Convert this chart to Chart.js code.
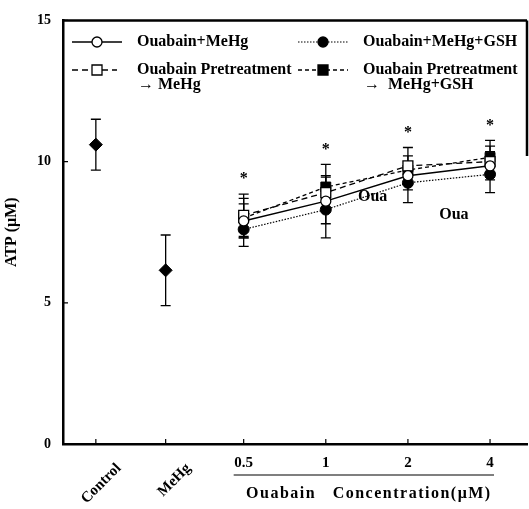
<!DOCTYPE html>
<html lang="en">
<head>
<meta charset="UTF-8">
<title>ATP vs Ouabain Concentration</title>
<script src="https://cdn.jsdelivr.net/npm/chart.js"></script>
<style>
  html, body { margin: 0; padding: 0; background: #fff; }
  #wrap { width: 529px; height: 509px; }
</style>
</head>
<body>
<div id="wrap"><canvas id="atpChart" width="529" height="509"></canvas></div>
<script>
// categories along the x axis
const categories = ['Control', 'MeHg', '0.5', '1', '2', '4'];
const yTicks = [0, 5, 10, 15];

// reference groups (Control, MeHg)
const refMeans = [10.6, 6.15];
const refErrors = [0.9, 1.25];

// ouabain series, one value per concentration 0.5, 1, 2, 4 uM
const ouaMeHg = [7.9, 8.6, 9.5, 9.85];
const ouaMeHgErr = [0.6, 1.3, 0.5, 0.5];
const preMeHg = [8.1, 8.9, 9.85, 10.0];
const preMeHgErr = [0.75, 0.55, 0.65, 0.55];
const ouaMeHgGSH = [7.6, 8.3, 9.25, 9.55];
const ouaMeHgGSHErr = [0.6, 0.5, 0.7, 0.65];
const preMeHgGSH = [8.0, 9.1, 9.7, 10.15];
const preMeHgGSHErr = [0.7, 0.4, 0.5, 0.6];

// stray "Oua" labels found on the figure
const strayLabels = [{ x: 3.77, y: 8.75, text: 'Oua' }, { x: 4.76, y: 8.1, text: 'Oua' }];

// x position of each category on the linear axis (spacing is uneven on the figure)
const xPos = [0.4, 1.25, 2.2, 3.2, 4.2, 5.2];
const SERIF = '"Liberation Serif", "Times New Roman", serif';

function pts(values, offset) {
    return values.map((v, i) => ({ x: xPos[i + offset], y: v }));
}

// error bars + asterisks
const errorBars = {
    id: 'errorBars',
    beforeDatasetsDraw(chart) {
        const ctx = chart.ctx, xs = chart.scales.x, ys = chart.scales.y;
        ctx.save();
        ctx.strokeStyle = '#000';
        ctx.lineWidth = 1.3;
        chart.data.datasets.forEach(ds => {
            if (!ds.errors) return;
            ds.data.forEach((p, i) => {
                const e = ds.errors[i];
                const px = xs.getPixelForValue(p.x);
                const top = ys.getPixelForValue(p.y + e);
                const bot = ys.getPixelForValue(p.y - e);
                ctx.beginPath();
                ctx.moveTo(px, top); ctx.lineTo(px, bot);
                ctx.moveTo(px - 5, top); ctx.lineTo(px + 5, top);
                ctx.moveTo(px - 5, bot); ctx.lineTo(px + 5, bot);
                ctx.stroke();
            });
        });
        ctx.restore();
    },
    afterDatasetsDraw(chart) {
        const ctx = chart.ctx, xs = chart.scales.x, ys = chart.scales.y;
        const series = chart.data.datasets.filter(ds => ds.ouabain);
        ctx.save();
        ctx.fillStyle = '#000';
        ctx.font = 'bold 16px ' + SERIF;
        ctx.textAlign = 'center';
        ctx.textBaseline = 'middle';
        ouaMeHg.forEach((_, i) => {
            let hi = -Infinity;
            series.forEach(ds => { hi = Math.max(hi, ds.data[i].y + ds.errors[i]); });
            ctx.fillText('*', xs.getPixelForValue(xPos[i + 2]), ys.getPixelForValue(hi) - 15);
        });
        ctx.font = 'bold 16px ' + SERIF;
        strayLabels.forEach(l => {
            ctx.fillText(l.text, xs.getPixelForValue(l.x), ys.getPixelForValue(l.y));
        });
        ctx.restore();
    }
};

// frame, inward ticks, x labels and the legend box
const decorations = {
    id: 'decorations',
    afterDraw(chart) {
        const ctx = chart.ctx, xs = chart.scales.x, ys = chart.scales.y;
        const a = chart.chartArea;
        ctx.save();
        ctx.strokeStyle = '#000';
        ctx.fillStyle = '#000';

        // top border and short right border
        ctx.lineWidth = 2.5;
        ctx.beginPath();
        ctx.moveTo(a.left, a.top); ctx.lineTo(a.right, a.top);
        ctx.moveTo(a.right, a.top); ctx.lineTo(a.right, ys.getPixelForValue(10.2));
        ctx.stroke();

        // inward tick marks
        ctx.lineWidth = 1.2;
        ctx.beginPath();
        yTicks.forEach(t => {
            const py = ys.getPixelForValue(t);
            ctx.moveTo(a.left, py); ctx.lineTo(a.left + 5, py);
        });
        xPos.forEach(x => {
            const px = xs.getPixelForValue(x);
            ctx.moveTo(px, a.bottom); ctx.lineTo(px, a.bottom - 5);
        });
        ctx.stroke();

        // x category labels
        categories.forEach((c, i) => {
            const px = xs.getPixelForValue(xPos[i]);
            if (i < 2) {
                ctx.save();
                ctx.font = 'bold 15px ' + SERIF;
                ctx.translate(px + 23, a.bottom + 22);
                ctx.rotate(-45 * Math.PI / 180);
                ctx.textAlign = 'right';
                ctx.textBaseline = 'middle';
                ctx.fillText(c, 0, 0);
                ctx.restore();
            } else {
                ctx.font = 'bold 15px ' + SERIF;
                ctx.textAlign = 'center';
                ctx.textBaseline = 'middle';
                ctx.fillText(c, px, a.bottom + 19);
            }
        });
        const x0 = xs.getPixelForValue(xPos[2]) - 10;
        const x1 = xs.getPixelForValue(xPos[5]) + 4;
        ctx.lineWidth = 1.2;
        ctx.beginPath();
        ctx.moveTo(x0, a.bottom + 31); ctx.lineTo(x1, a.bottom + 31);
        ctx.stroke();
        ctx.font = 'bold 16px ' + SERIF;
        ctx.letterSpacing = '1.5px';
        ctx.textAlign = 'center';
        ctx.fillText('Ouabain   Concentration(\u03bcM)', (x0 + x1) / 2 + 5, a.bottom + 50);
        ctx.letterSpacing = '0px';

        // legend
        const rows = [
            { ds: 0, x: 72, w: 50, y: 42, label: ['Ouabain+MeHg'] },
            { ds: 2, x: 298, w: 50, y: 42, label: ['Ouabain+MeHg+GSH'] },
            { ds: 1, x: 72, w: 45, y: 70, label: ['Ouabain Pretreatment', '\u2192 MeHg'] },
            { ds: 3, x: 298, w: 50, y: 70, label: ['Ouabain Pretreatment', '\u2192  MeHg+GSH'] }
        ];
        rows.forEach(r => {
            const ds = chart.data.datasets[r.ds];
            ctx.lineWidth = ds.borderWidth;
            ctx.setLineDash(ds.borderDash || []);
            ctx.beginPath();
            ctx.moveTo(r.x, r.y); ctx.lineTo(r.x + r.w, r.y);
            ctx.stroke();
            ctx.setLineDash([]);
            const cx = r.x + 25;
            ctx.lineWidth = 1.3;
            ctx.fillStyle = ds.pointBackgroundColor;
            ctx.beginPath();
            if (ds.pointStyle === 'rect') {
                ctx.rect(cx - 5, r.y - 5, 10, 10);
            } else {
                ctx.arc(cx, r.y, 5, 0, Math.PI * 2);
            }
            ctx.fill(); ctx.stroke();
            ctx.fillStyle = '#000';
            ctx.font = 'bold 16px ' + SERIF;
            ctx.textAlign = 'left';
            ctx.textBaseline = 'middle';
            r.label.forEach((t, k) => ctx.fillText(t, r.x + 65 + (k ? 1 : 0), r.y + k * 15));
        });
        ctx.restore();
    }
};

const ctx = document.getElementById('atpChart').getContext('2d');
new Chart(ctx, {
    type: 'line',
    data: {
        datasets: [
            {
                label: 'Ouabain+MeHg', ouabain: true,
                data: pts(ouaMeHg, 2), errors: ouaMeHgErr,
                borderColor: '#000', borderWidth: 1.5,
                pointStyle: 'circle', pointRadius: 5,
                pointBackgroundColor: '#fff', pointBorderColor: '#000', pointBorderWidth: 1.3
            },
            {
                label: 'Ouabain Pretreatment \u2192 MeHg', ouabain: true,
                data: pts(preMeHg, 2), errors: preMeHgErr,
                borderColor: '#000', borderWidth: 1.3, borderDash: [6, 4],
                pointStyle: 'rect', pointRadius: 7,
                pointBackgroundColor: '#fff', pointBorderColor: '#000', pointBorderWidth: 1.3
            },
            {
                label: 'Ouabain+MeHg+GSH', ouabain: true,
                data: pts(ouaMeHgGSH, 2), errors: ouaMeHgGSHErr,
                borderColor: '#000', borderWidth: 1.2, borderDash: [1.5, 1.5],
                pointStyle: 'circle', pointRadius: 5.5,
                pointBackgroundColor: '#000', pointBorderColor: '#000', pointBorderWidth: 1
            },
            {
                label: 'Ouabain Pretreatment \u2192 MeHg+GSH', ouabain: true,
                data: pts(preMeHgGSH, 2), errors: preMeHgGSHErr,
                borderColor: '#000', borderWidth: 1.3, borderDash: [4, 3],
                pointStyle: 'rect', pointRadius: 7,
                pointBackgroundColor: '#000', pointBorderColor: '#000', pointBorderWidth: 1
            },
            {
                label: 'Control / MeHg',
                data: pts(refMeans, 0), errors: refErrors,
                showLine: false,
                pointStyle: 'rectRot', pointRadius: 6.5,
                pointBackgroundColor: '#000', pointBorderColor: '#000'
            }
        ]
    },
    options: {
        responsive: false,
        animation: false,
        layout: { autoPadding: false, padding: { left: 0, top: 13, right: 2, bottom: 65 } },
        plugins: { legend: { display: false }, tooltip: { enabled: false } },
        scales: {
            x: {
                type: 'linear', min: 0, max: 5.65,
                grid: { display: false, drawTicks: false },
                border: { display: true, color: '#000', width: 2.5 },
                ticks: { display: false },
                afterFit(scale) { scale.height = 0; }
            },
            y: {
                min: 0, max: 15,
                afterBuildTicks(scale) { scale.ticks = yTicks.map(v => ({ value: v })); },
                grid: { display: false, drawTicks: false },
                border: { display: true, color: '#000', width: 2.5 },
                ticks: { color: '#000', padding: 12, font: { family: SERIF, size: 14, weight: 'bold' } },
                title: {
                    display: true, text: 'ATP (\u03bcM)', color: '#000',
                    padding: { top: 2, bottom: 0 },
                    font: { family: SERIF, size: 16, weight: 'bold' }
                },
                afterFit(scale) { scale.width = 63; }
            }
        }
    },
    plugins: [errorBars, decorations]
});
</script>
</body>
</html>
